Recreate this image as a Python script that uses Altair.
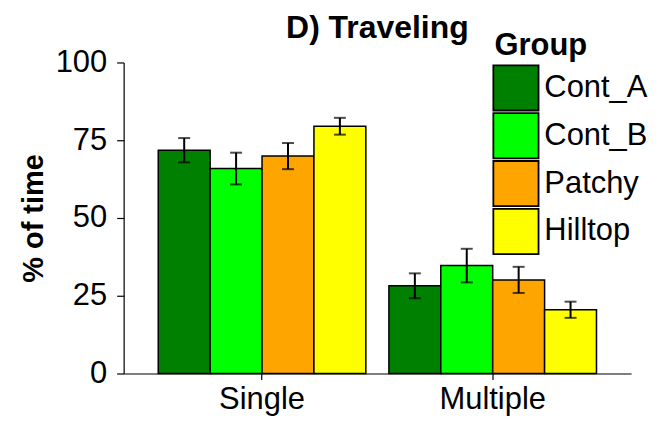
import altair as alt
import pandas as pd

groups = ["Cont_A", "Cont_B", "Patchy", "Hilltop"]
types = ["Single", "Multiple"]
single_mean = [71.8, 65.9, 69.9, 79.5]
single_err = [3.9, 5.1, 4.2, 2.7]
multiple_mean = [28.2, 34.7, 30.1, 20.5]
multiple_err = [4.0, 5.4, 4.2, 2.6]
colors = ["#008000", "#00FF00", "#FFA500", "#FFFF00"]

rows = []
for t, means, errs in [("Single", single_mean, single_err), ("Multiple", multiple_mean, multiple_err)]:
    for g, m, e in zip(groups, means, errs):
        rows.append({"Type": t, "Group": g, "mean": m, "lo": m - e, "hi": m + e})
df = pd.DataFrame(rows)

FONT = "Liberation Sans"

x = alt.X("Type:N", sort=types, title=None,
          scale=alt.Scale(paddingInner=0.1, paddingOuter=0.15),
          axis=alt.Axis(labelAngle=0, labelFontSize=31, labelColor="black",
                        tickColor="black", tickSize=6, domainColor="black",
                        labelPadding=5, domainWidth=1.2, tickWidth=1.2))
xo = alt.XOffset("Group:N", sort=groups, scale=alt.Scale(paddingInner=0, paddingOuter=0))

base = alt.Chart(df)

bars = base.mark_bar(stroke="black", strokeWidth=1.5, opacity=1).encode(
    x=x,
    xOffset=xo,
    y=alt.Y("mean:Q", title="% of time",
            scale=alt.Scale(domain=[0, 100], nice=False, zero=True),
            axis=alt.Axis(values=[0, 25, 50, 75, 100], labelFontSize=31, labelColor="black",
                          tickColor="black", tickSize=7, labelPadding=10, domainColor="black",
                          domainWidth=1.2, tickWidth=1.2, grid=False,
                          titleFontSize=29, titleFontWeight="bold", titleColor="black",
                          titlePadding=7)),
    fill=alt.Fill("Group:N", sort=groups,
                  scale=alt.Scale(domain=groups, range=colors),
                  legend=alt.Legend(title="Group", orient="none", legendX=372, legendY=-31,
                                    titleFontSize=31, titleFontWeight="bold", titleColor="black",
                                    labelFontSize=31, labelColor="black",
                                    symbolType="M-1.1,-1.1H1.1V1.1H-1.1Z",
                                    symbolSize=1697,
                                    symbolStrokeColor="black", symbolStrokeWidth=1.8,
                                    symbolOpacity=1, rowPadding=-14, labelOffset=7,
                                    titlePadding=4)),
)

rules = base.mark_rule(color="black", strokeWidth=2).encode(
    x=alt.X("Type:N", sort=types), xOffset=xo,
    y=alt.Y("lo:Q"), y2="hi:Q",
)
caps_lo = base.mark_tick(color="black", size=12, thickness=2).encode(
    x=alt.X("Type:N", sort=types), xOffset=xo, y=alt.Y("lo:Q"),
)
caps_hi = base.mark_tick(color="black", size=12, thickness=2).encode(
    x=alt.X("Type:N", sort=types), xOffset=xo, y=alt.Y("hi:Q"),
)

chart = alt.layer(bars, rules, caps_lo, caps_hi).properties(
    width=509, height=312,
    title=alt.Title("D) Traveling", fontSize=32, fontWeight="bold", color="black",
                    anchor="middle", offset=8, dy=21, font=FONT),
    autosize=alt.AutoSizeParams(type="none"),
    padding={"left": 116, "top": 54, "right": 30, "bottom": 52},
).configure(font=FONT).configure_view(stroke=None).configure_axis(
    labelFont=FONT, titleFont=FONT
).configure_legend(labelFont=FONT, titleFont=FONT)

chart.save("out.html", embed_options={"renderer": "svg", "actions": False})
